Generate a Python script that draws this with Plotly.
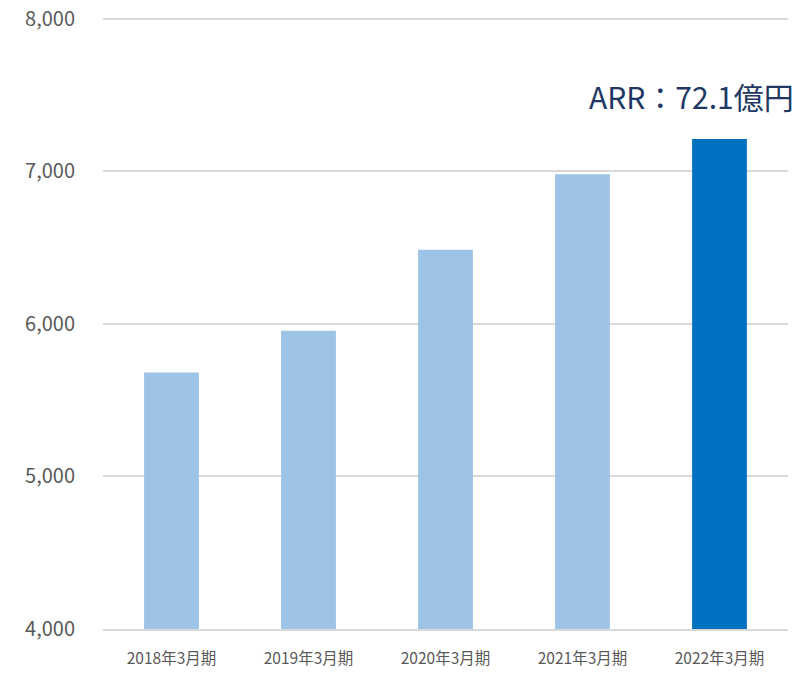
import plotly.graph_objects as go

# data
periods = ["2018年3月期", "2019年3月期", "2020年3月期", "2021年3月期", "2022年3月期"]
arr_values = [5680, 5955, 6485, 6980, 7210]
bar_colors = ["#9DC3E6", "#9DC3E6", "#9DC3E6", "#9DC3E6", "#0070C0"]
y_ticks = [4000, 5000, 6000, 7000, 8000]
y_labels = ["4,000", "5,000", "6,000", "7,000", "8,000"]
label_text = "ARR：72.1億円"

font_family = "Noto Sans CJK JP, Open Sans, sans-serif"

fig = go.Figure(go.Bar(
    x=periods,
    y=arr_values,
    marker=dict(color=bar_colors, line=dict(width=0)),
    hoverinfo="x+y",
))

fig.add_annotation(
    x=1, y=arr_values[-1], xref="paper", yref="y",
    text=label_text, showarrow=False,
    xanchor="right", yanchor="middle", yshift=43, xshift=8,
    font=dict(size=30, color="#1F3864", family=font_family),
)

fig.update_layout(
    width=800, height=673,
    margin=dict(l=103, r=12, t=17, b=44),
    paper_bgcolor="#ffffff",
    plot_bgcolor="#ffffff",
    bargap=0.6,
    showlegend=False,
    font=dict(family=font_family, color="#595959", size=16),
    xaxis=dict(
        showgrid=False, showline=True, linecolor="#d9d9d9", linewidth=1.5,
        ticks="", tickfont=dict(size=15.5, color="#595959"),
        ticklabelstandoff=15, automargin=False,
    ),
    yaxis=dict(
        range=[4000, 8010],
        tickmode="array", tickvals=y_ticks, ticktext=y_labels,
        showgrid=True, gridcolor="#d9d9d9", gridwidth=1.5,
        zeroline=False, showline=False, ticks="",
        ticklabelstandoff=27, automargin=False,
        tickfont=dict(size=20, color="#595959"),
    ),
)

# drop the default 8px body margin so the figure sits at the window's top-left corner
fig.write_html(
    "out.html",
    config={"displayModeBar": False},
    post_script="document.body.style.margin='0';",
)
